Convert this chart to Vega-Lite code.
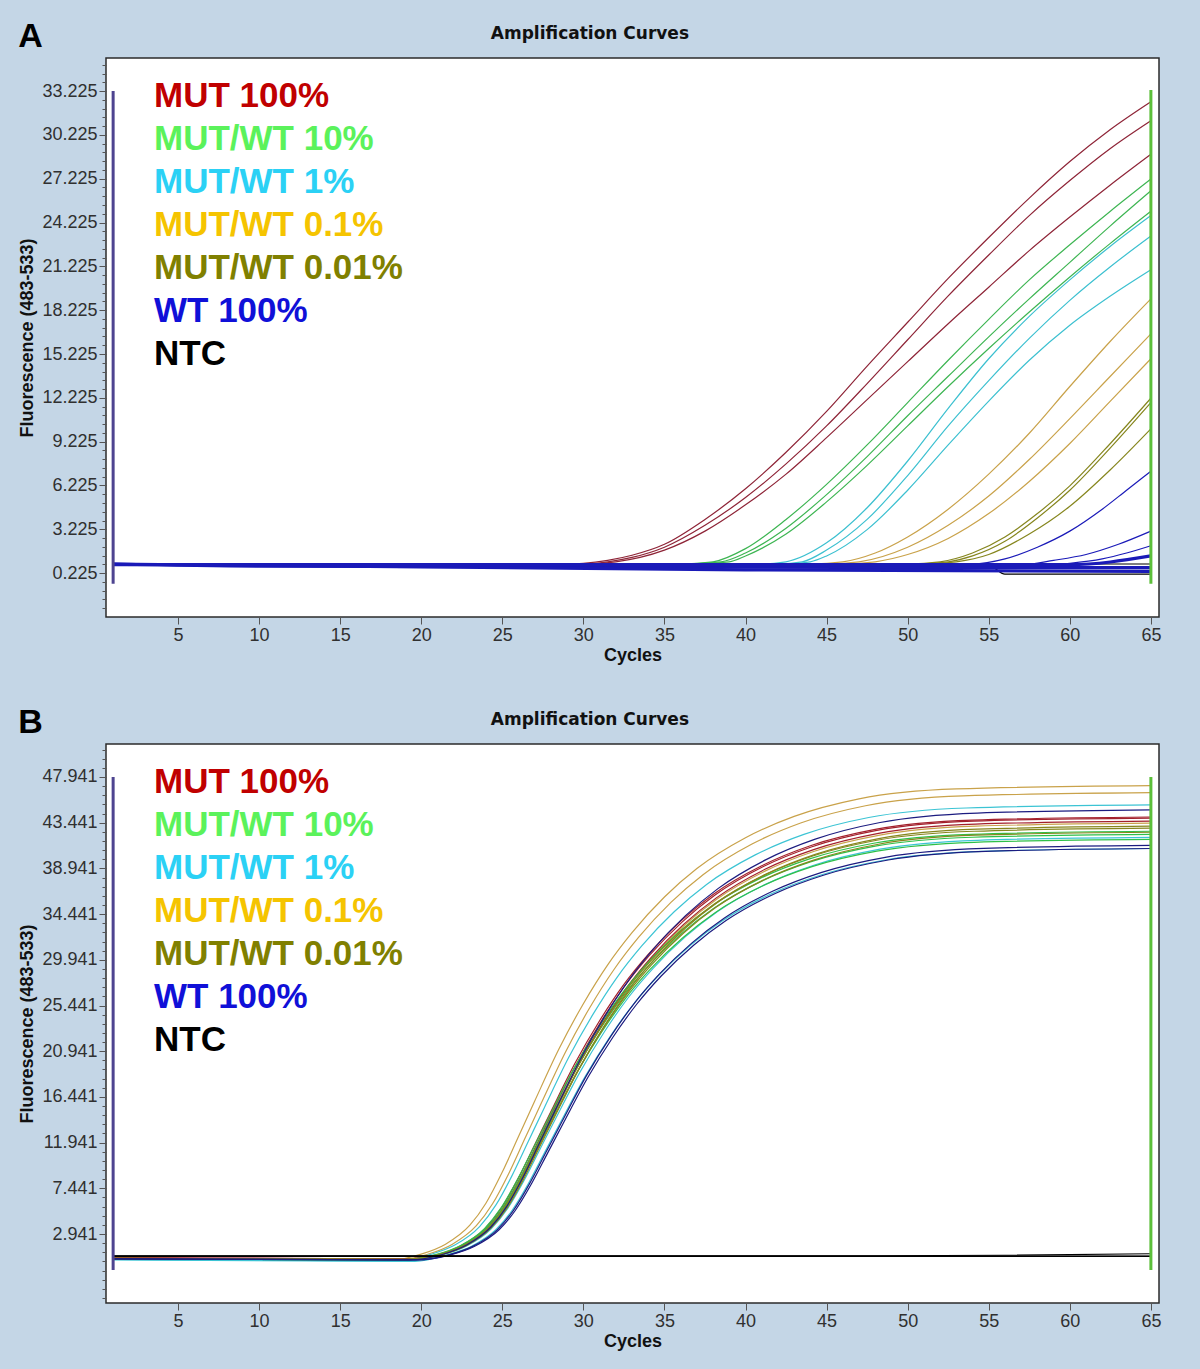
{
  "$schema": "https://vega.github.io/schema/vega-lite/v6.json",
  "background": "#c4d6e6",
  "padding": {"left": 18, "top": 20, "right": 38, "bottom": 18},
  "spacing": 41,
  "resolve": {"scale": {"color": "independent"}},
  "config": {
    "font": "Liberation Sans",
    "view": {"stroke": "#2b2b2b", "strokeWidth": 1.5, "fill": "#ffffff"},
    "axis": {"labelFont": "Liberation Sans", "labelFontSize": 18, "labelColor": "#303030", "tickColor": "#555555", "domain": false, "grid": false, "titleFont": "Liberation Sans", "titleFontWeight": "bold", "titleFontSize": 18, "titleColor": "#111111"},
    "legend": {"labelFont": "Liberation Sans", "labelFontSize": 35, "labelFontWeight": "bold", "labelLimit": 600, "symbolSize": 0, "symbolOpacity": 0, "symbolStrokeWidth": 0, "labelOffset": 0, "rowPadding": 7, "padding": 0}
  },
  "datasets": {
    "markersA": [
      {"cycle": 1, "low": -0.5, "high": 33.225, "marker": "start"},
      {"cycle": 65, "low": -0.5, "high": 33.3, "marker": "end"}
    ],
    "markersB": [
      {"cycle": 1, "low": -0.6, "high": 47.941, "marker": "start"},
      {"cycle": 65, "low": -0.6, "high": 47.941, "marker": "end"}
    ],
    "curvesA": [
      {"sample":"MUT 100%","well":1,"cycle":1,"fluorescence":0.85},
      {"sample":"MUT 100%","well":1,"cycle":15,"fluorescence":0.8},
      {"sample":"MUT 100%","well":1,"cycle":29,"fluorescence":0.85},
      {"sample":"MUT 100%","well":1,"cycle":30,"fluorescence":0.9},
      {"sample":"MUT 100%","well":1,"cycle":31.5,"fluorescence":1.1},
      {"sample":"MUT 100%","well":1,"cycle":33,"fluorescence":1.45},
      {"sample":"MUT 100%","well":1,"cycle":35,"fluorescence":2.2},
      {"sample":"MUT 100%","well":1,"cycle":37.5,"fluorescence":3.9},
      {"sample":"MUT 100%","well":1,"cycle":40,"fluorescence":6.0},
      {"sample":"MUT 100%","well":1,"cycle":42.5,"fluorescence":8.5},
      {"sample":"MUT 100%","well":1,"cycle":45,"fluorescence":11.3},
      {"sample":"MUT 100%","well":1,"cycle":47.5,"fluorescence":14.4},
      {"sample":"MUT 100%","well":1,"cycle":50,"fluorescence":17.4},
      {"sample":"MUT 100%","well":1,"cycle":52.5,"fluorescence":20.4},
      {"sample":"MUT 100%","well":1,"cycle":55,"fluorescence":23.2},
      {"sample":"MUT 100%","well":1,"cycle":57.5,"fluorescence":25.9},
      {"sample":"MUT 100%","well":1,"cycle":60,"fluorescence":28.4},
      {"sample":"MUT 100%","well":1,"cycle":62.5,"fluorescence":30.6},
      {"sample":"MUT 100%","well":1,"cycle":65,"fluorescence":32.5},
      {"sample":"MUT 100%","well":2,"cycle":1,"fluorescence":0.85},
      {"sample":"MUT 100%","well":2,"cycle":15,"fluorescence":0.8},
      {"sample":"MUT 100%","well":2,"cycle":29,"fluorescence":0.85},
      {"sample":"MUT 100%","well":2,"cycle":30,"fluorescence":0.85},
      {"sample":"MUT 100%","well":2,"cycle":31.5,"fluorescence":1.0},
      {"sample":"MUT 100%","well":2,"cycle":33,"fluorescence":1.3},
      {"sample":"MUT 100%","well":2,"cycle":35,"fluorescence":2.0},
      {"sample":"MUT 100%","well":2,"cycle":37.5,"fluorescence":3.5},
      {"sample":"MUT 100%","well":2,"cycle":40,"fluorescence":5.4},
      {"sample":"MUT 100%","well":2,"cycle":42.5,"fluorescence":7.7},
      {"sample":"MUT 100%","well":2,"cycle":45,"fluorescence":10.3},
      {"sample":"MUT 100%","well":2,"cycle":47.5,"fluorescence":13.2},
      {"sample":"MUT 100%","well":2,"cycle":50,"fluorescence":16.2},
      {"sample":"MUT 100%","well":2,"cycle":52.5,"fluorescence":19.2},
      {"sample":"MUT 100%","well":2,"cycle":55,"fluorescence":22.0},
      {"sample":"MUT 100%","well":2,"cycle":57.5,"fluorescence":24.7},
      {"sample":"MUT 100%","well":2,"cycle":60,"fluorescence":27.1},
      {"sample":"MUT 100%","well":2,"cycle":62.5,"fluorescence":29.3},
      {"sample":"MUT 100%","well":2,"cycle":65,"fluorescence":31.2},
      {"sample":"MUT 100%","well":3,"cycle":1,"fluorescence":0.85},
      {"sample":"MUT 100%","well":3,"cycle":15,"fluorescence":0.8},
      {"sample":"MUT 100%","well":3,"cycle":29,"fluorescence":0.85},
      {"sample":"MUT 100%","well":3,"cycle":30,"fluorescence":0.85},
      {"sample":"MUT 100%","well":3,"cycle":32,"fluorescence":1.0},
      {"sample":"MUT 100%","well":3,"cycle":33.5,"fluorescence":1.3},
      {"sample":"MUT 100%","well":3,"cycle":35,"fluorescence":1.8},
      {"sample":"MUT 100%","well":3,"cycle":37.5,"fluorescence":3.1},
      {"sample":"MUT 100%","well":3,"cycle":40,"fluorescence":4.9},
      {"sample":"MUT 100%","well":3,"cycle":42.5,"fluorescence":7.0},
      {"sample":"MUT 100%","well":3,"cycle":45,"fluorescence":9.5},
      {"sample":"MUT 100%","well":3,"cycle":47.5,"fluorescence":12.1},
      {"sample":"MUT 100%","well":3,"cycle":50,"fluorescence":14.7},
      {"sample":"MUT 100%","well":3,"cycle":52.5,"fluorescence":17.3},
      {"sample":"MUT 100%","well":3,"cycle":55,"fluorescence":19.8},
      {"sample":"MUT 100%","well":3,"cycle":57.5,"fluorescence":22.3},
      {"sample":"MUT 100%","well":3,"cycle":60,"fluorescence":24.6},
      {"sample":"MUT 100%","well":3,"cycle":62.5,"fluorescence":26.8},
      {"sample":"MUT 100%","well":3,"cycle":65,"fluorescence":28.9},
      {"sample":"MUT/WT 10%","well":4,"cycle":1,"fluorescence":0.85},
      {"sample":"MUT/WT 10%","well":4,"cycle":20,"fluorescence":0.8},
      {"sample":"MUT/WT 10%","well":4,"cycle":36,"fluorescence":0.85},
      {"sample":"MUT/WT 10%","well":4,"cycle":38,"fluorescence":1.0},
      {"sample":"MUT/WT 10%","well":4,"cycle":40,"fluorescence":1.9},
      {"sample":"MUT/WT 10%","well":4,"cycle":42.5,"fluorescence":3.9},
      {"sample":"MUT/WT 10%","well":4,"cycle":45,"fluorescence":6.3},
      {"sample":"MUT/WT 10%","well":4,"cycle":47.5,"fluorescence":9.0},
      {"sample":"MUT/WT 10%","well":4,"cycle":50,"fluorescence":11.9},
      {"sample":"MUT/WT 10%","well":4,"cycle":52.5,"fluorescence":14.8},
      {"sample":"MUT/WT 10%","well":4,"cycle":55,"fluorescence":17.6},
      {"sample":"MUT/WT 10%","well":4,"cycle":57.5,"fluorescence":20.3},
      {"sample":"MUT/WT 10%","well":4,"cycle":60,"fluorescence":22.7},
      {"sample":"MUT/WT 10%","well":4,"cycle":62.5,"fluorescence":25.0},
      {"sample":"MUT/WT 10%","well":4,"cycle":65,"fluorescence":27.2},
      {"sample":"MUT/WT 10%","well":5,"cycle":1,"fluorescence":0.85},
      {"sample":"MUT/WT 10%","well":5,"cycle":20,"fluorescence":0.8},
      {"sample":"MUT/WT 10%","well":5,"cycle":36,"fluorescence":0.85},
      {"sample":"MUT/WT 10%","well":5,"cycle":38.5,"fluorescence":1.0},
      {"sample":"MUT/WT 10%","well":5,"cycle":40,"fluorescence":1.6},
      {"sample":"MUT/WT 10%","well":5,"cycle":42.5,"fluorescence":3.3},
      {"sample":"MUT/WT 10%","well":5,"cycle":45,"fluorescence":5.6},
      {"sample":"MUT/WT 10%","well":5,"cycle":47.5,"fluorescence":8.2},
      {"sample":"MUT/WT 10%","well":5,"cycle":50,"fluorescence":11.0},
      {"sample":"MUT/WT 10%","well":5,"cycle":52.5,"fluorescence":13.7},
      {"sample":"MUT/WT 10%","well":5,"cycle":55,"fluorescence":16.4},
      {"sample":"MUT/WT 10%","well":5,"cycle":57.5,"fluorescence":19.0},
      {"sample":"MUT/WT 10%","well":5,"cycle":60,"fluorescence":21.5},
      {"sample":"MUT/WT 10%","well":5,"cycle":62.5,"fluorescence":24.0},
      {"sample":"MUT/WT 10%","well":5,"cycle":65,"fluorescence":26.4},
      {"sample":"MUT/WT 10%","well":6,"cycle":1,"fluorescence":0.85},
      {"sample":"MUT/WT 10%","well":6,"cycle":20,"fluorescence":0.8},
      {"sample":"MUT/WT 10%","well":6,"cycle":36,"fluorescence":0.85},
      {"sample":"MUT/WT 10%","well":6,"cycle":39,"fluorescence":1.0},
      {"sample":"MUT/WT 10%","well":6,"cycle":40,"fluorescence":1.4},
      {"sample":"MUT/WT 10%","well":6,"cycle":42.5,"fluorescence":2.9},
      {"sample":"MUT/WT 10%","well":6,"cycle":45,"fluorescence":5.1},
      {"sample":"MUT/WT 10%","well":6,"cycle":47.5,"fluorescence":7.6},
      {"sample":"MUT/WT 10%","well":6,"cycle":50,"fluorescence":10.3},
      {"sample":"MUT/WT 10%","well":6,"cycle":52.5,"fluorescence":13.0},
      {"sample":"MUT/WT 10%","well":6,"cycle":55,"fluorescence":15.6},
      {"sample":"MUT/WT 10%","well":6,"cycle":57.5,"fluorescence":18.1},
      {"sample":"MUT/WT 10%","well":6,"cycle":60,"fluorescence":20.5},
      {"sample":"MUT/WT 10%","well":6,"cycle":62.5,"fluorescence":22.8},
      {"sample":"MUT/WT 10%","well":6,"cycle":65,"fluorescence":25.0},
      {"sample":"MUT/WT 1%","well":7,"cycle":1,"fluorescence":0.85},
      {"sample":"MUT/WT 1%","well":7,"cycle":25,"fluorescence":0.8},
      {"sample":"MUT/WT 1%","well":7,"cycle":41,"fluorescence":0.85},
      {"sample":"MUT/WT 1%","well":7,"cycle":42.5,"fluorescence":1.0},
      {"sample":"MUT/WT 1%","well":7,"cycle":45,"fluorescence":2.3},
      {"sample":"MUT/WT 1%","well":7,"cycle":47.5,"fluorescence":4.7},
      {"sample":"MUT/WT 1%","well":7,"cycle":50,"fluorescence":7.9},
      {"sample":"MUT/WT 1%","well":7,"cycle":52.5,"fluorescence":11.5},
      {"sample":"MUT/WT 1%","well":7,"cycle":55,"fluorescence":14.9},
      {"sample":"MUT/WT 1%","well":7,"cycle":57.5,"fluorescence":17.8},
      {"sample":"MUT/WT 1%","well":7,"cycle":60,"fluorescence":20.3},
      {"sample":"MUT/WT 1%","well":7,"cycle":62.5,"fluorescence":22.6},
      {"sample":"MUT/WT 1%","well":7,"cycle":65,"fluorescence":24.7},
      {"sample":"MUT/WT 1%","well":8,"cycle":1,"fluorescence":0.85},
      {"sample":"MUT/WT 1%","well":8,"cycle":25,"fluorescence":0.8},
      {"sample":"MUT/WT 1%","well":8,"cycle":42,"fluorescence":0.85},
      {"sample":"MUT/WT 1%","well":8,"cycle":43.5,"fluorescence":1.0},
      {"sample":"MUT/WT 1%","well":8,"cycle":45,"fluorescence":1.8},
      {"sample":"MUT/WT 1%","well":8,"cycle":47.5,"fluorescence":3.9},
      {"sample":"MUT/WT 1%","well":8,"cycle":50,"fluorescence":6.9},
      {"sample":"MUT/WT 1%","well":8,"cycle":52.5,"fluorescence":10.3},
      {"sample":"MUT/WT 1%","well":8,"cycle":55,"fluorescence":13.4},
      {"sample":"MUT/WT 1%","well":8,"cycle":57.5,"fluorescence":16.3},
      {"sample":"MUT/WT 1%","well":8,"cycle":60,"fluorescence":18.9},
      {"sample":"MUT/WT 1%","well":8,"cycle":62.5,"fluorescence":21.2},
      {"sample":"MUT/WT 1%","well":8,"cycle":65,"fluorescence":23.3},
      {"sample":"MUT/WT 1%","well":9,"cycle":1,"fluorescence":0.85},
      {"sample":"MUT/WT 1%","well":9,"cycle":25,"fluorescence":0.8},
      {"sample":"MUT/WT 1%","well":9,"cycle":42.5,"fluorescence":0.85},
      {"sample":"MUT/WT 1%","well":9,"cycle":44,"fluorescence":1.0},
      {"sample":"MUT/WT 1%","well":9,"cycle":45,"fluorescence":1.4},
      {"sample":"MUT/WT 1%","well":9,"cycle":47.5,"fluorescence":3.2},
      {"sample":"MUT/WT 1%","well":9,"cycle":50,"fluorescence":5.9},
      {"sample":"MUT/WT 1%","well":9,"cycle":52.5,"fluorescence":9.0},
      {"sample":"MUT/WT 1%","well":9,"cycle":55,"fluorescence":12.0},
      {"sample":"MUT/WT 1%","well":9,"cycle":57.5,"fluorescence":14.8},
      {"sample":"MUT/WT 1%","well":9,"cycle":60,"fluorescence":17.2},
      {"sample":"MUT/WT 1%","well":9,"cycle":62.5,"fluorescence":19.2},
      {"sample":"MUT/WT 1%","well":9,"cycle":65,"fluorescence":21.0},
      {"sample":"MUT/WT 0.1%","well":10,"cycle":1,"fluorescence":0.85},
      {"sample":"MUT/WT 0.1%","well":10,"cycle":30,"fluorescence":0.8},
      {"sample":"MUT/WT 0.1%","well":10,"cycle":44,"fluorescence":0.85},
      {"sample":"MUT/WT 0.1%","well":10,"cycle":46,"fluorescence":1.0},
      {"sample":"MUT/WT 0.1%","well":10,"cycle":48,"fluorescence":1.6},
      {"sample":"MUT/WT 0.1%","well":10,"cycle":50,"fluorescence":2.7},
      {"sample":"MUT/WT 0.1%","well":10,"cycle":52.5,"fluorescence":4.6},
      {"sample":"MUT/WT 0.1%","well":10,"cycle":55,"fluorescence":7.0},
      {"sample":"MUT/WT 0.1%","well":10,"cycle":57.5,"fluorescence":9.8},
      {"sample":"MUT/WT 0.1%","well":10,"cycle":60,"fluorescence":13.0},
      {"sample":"MUT/WT 0.1%","well":10,"cycle":62.5,"fluorescence":16.1},
      {"sample":"MUT/WT 0.1%","well":10,"cycle":65,"fluorescence":19.0},
      {"sample":"MUT/WT 0.1%","well":11,"cycle":1,"fluorescence":0.85},
      {"sample":"MUT/WT 0.1%","well":11,"cycle":30,"fluorescence":0.8},
      {"sample":"MUT/WT 0.1%","well":11,"cycle":45,"fluorescence":0.85},
      {"sample":"MUT/WT 0.1%","well":11,"cycle":47,"fluorescence":1.0},
      {"sample":"MUT/WT 0.1%","well":11,"cycle":50,"fluorescence":2.0},
      {"sample":"MUT/WT 0.1%","well":11,"cycle":52.5,"fluorescence":3.5},
      {"sample":"MUT/WT 0.1%","well":11,"cycle":55,"fluorescence":5.5},
      {"sample":"MUT/WT 0.1%","well":11,"cycle":57.5,"fluorescence":8.0},
      {"sample":"MUT/WT 0.1%","well":11,"cycle":60,"fluorescence":10.8},
      {"sample":"MUT/WT 0.1%","well":11,"cycle":62.5,"fluorescence":13.7},
      {"sample":"MUT/WT 0.1%","well":11,"cycle":65,"fluorescence":16.6},
      {"sample":"MUT/WT 0.1%","well":12,"cycle":1,"fluorescence":0.85},
      {"sample":"MUT/WT 0.1%","well":12,"cycle":30,"fluorescence":0.8},
      {"sample":"MUT/WT 0.1%","well":12,"cycle":46,"fluorescence":0.85},
      {"sample":"MUT/WT 0.1%","well":12,"cycle":48,"fluorescence":1.0},
      {"sample":"MUT/WT 0.1%","well":12,"cycle":50,"fluorescence":1.5},
      {"sample":"MUT/WT 0.1%","well":12,"cycle":52.5,"fluorescence":2.6},
      {"sample":"MUT/WT 0.1%","well":12,"cycle":55,"fluorescence":4.3},
      {"sample":"MUT/WT 0.1%","well":12,"cycle":57.5,"fluorescence":6.5},
      {"sample":"MUT/WT 0.1%","well":12,"cycle":60,"fluorescence":9.1},
      {"sample":"MUT/WT 0.1%","well":12,"cycle":62.5,"fluorescence":12.0},
      {"sample":"MUT/WT 0.1%","well":12,"cycle":65,"fluorescence":14.9},
      {"sample":"MUT/WT 0.01%","well":13,"cycle":1,"fluorescence":0.85},
      {"sample":"MUT/WT 0.01%","well":13,"cycle":30,"fluorescence":0.8},
      {"sample":"MUT/WT 0.01%","well":13,"cycle":50,"fluorescence":0.85},
      {"sample":"MUT/WT 0.01%","well":13,"cycle":52,"fluorescence":1.0},
      {"sample":"MUT/WT 0.01%","well":13,"cycle":54,"fluorescence":1.6},
      {"sample":"MUT/WT 0.01%","well":13,"cycle":56,"fluorescence":2.7},
      {"sample":"MUT/WT 0.01%","well":13,"cycle":58,"fluorescence":4.3},
      {"sample":"MUT/WT 0.01%","well":13,"cycle":60,"fluorescence":6.2},
      {"sample":"MUT/WT 0.01%","well":13,"cycle":62.5,"fluorescence":9.1},
      {"sample":"MUT/WT 0.01%","well":13,"cycle":65,"fluorescence":12.2},
      {"sample":"MUT/WT 0.01%","well":14,"cycle":1,"fluorescence":0.85},
      {"sample":"MUT/WT 0.01%","well":14,"cycle":30,"fluorescence":0.8},
      {"sample":"MUT/WT 0.01%","well":14,"cycle":50.5,"fluorescence":0.85},
      {"sample":"MUT/WT 0.01%","well":14,"cycle":52.5,"fluorescence":1.0},
      {"sample":"MUT/WT 0.01%","well":14,"cycle":54,"fluorescence":1.4},
      {"sample":"MUT/WT 0.01%","well":14,"cycle":56,"fluorescence":2.4},
      {"sample":"MUT/WT 0.01%","well":14,"cycle":58,"fluorescence":4.0},
      {"sample":"MUT/WT 0.01%","well":14,"cycle":60,"fluorescence":5.9},
      {"sample":"MUT/WT 0.01%","well":14,"cycle":62.5,"fluorescence":8.8},
      {"sample":"MUT/WT 0.01%","well":14,"cycle":65,"fluorescence":11.9},
      {"sample":"MUT/WT 0.01%","well":15,"cycle":1,"fluorescence":0.85},
      {"sample":"MUT/WT 0.01%","well":15,"cycle":30,"fluorescence":0.8},
      {"sample":"MUT/WT 0.01%","well":15,"cycle":51,"fluorescence":0.85},
      {"sample":"MUT/WT 0.01%","well":15,"cycle":53,"fluorescence":1.0},
      {"sample":"MUT/WT 0.01%","well":15,"cycle":55,"fluorescence":1.5},
      {"sample":"MUT/WT 0.01%","well":15,"cycle":57.5,"fluorescence":2.9},
      {"sample":"MUT/WT 0.01%","well":15,"cycle":60,"fluorescence":4.8},
      {"sample":"MUT/WT 0.01%","well":15,"cycle":62.5,"fluorescence":7.3},
      {"sample":"MUT/WT 0.01%","well":15,"cycle":65,"fluorescence":10.1},
      {"sample":"WT 100%","well":16,"cycle":1,"fluorescence":0.85},
      {"sample":"WT 100%","well":16,"cycle":30,"fluorescence":0.8},
      {"sample":"WT 100%","well":16,"cycle":54,"fluorescence":0.85},
      {"sample":"WT 100%","well":16,"cycle":56,"fluorescence":1.2},
      {"sample":"WT 100%","well":16,"cycle":58,"fluorescence":2.0},
      {"sample":"WT 100%","well":16,"cycle":60,"fluorescence":3.1},
      {"sample":"WT 100%","well":16,"cycle":62,"fluorescence":4.6},
      {"sample":"WT 100%","well":16,"cycle":63.5,"fluorescence":5.9},
      {"sample":"WT 100%","well":16,"cycle":65,"fluorescence":7.2},
      {"sample":"WT 100%","well":17,"cycle":1,"fluorescence":0.8},
      {"sample":"WT 100%","well":17,"cycle":40,"fluorescence":0.75},
      {"sample":"WT 100%","well":17,"cycle":57,"fluorescence":0.8},
      {"sample":"WT 100%","well":17,"cycle":59,"fluorescence":1.1},
      {"sample":"WT 100%","well":17,"cycle":61,"fluorescence":1.5},
      {"sample":"WT 100%","well":17,"cycle":63,"fluorescence":2.2},
      {"sample":"WT 100%","well":17,"cycle":65,"fluorescence":3.1},
      {"sample":"WT 100%","well":18,"cycle":1,"fluorescence":0.75},
      {"sample":"WT 100%","well":18,"cycle":45,"fluorescence":0.7},
      {"sample":"WT 100%","well":18,"cycle":58,"fluorescence":0.75},
      {"sample":"WT 100%","well":18,"cycle":60,"fluorescence":0.9},
      {"sample":"WT 100%","well":18,"cycle":62,"fluorescence":1.2},
      {"sample":"WT 100%","well":18,"cycle":63.5,"fluorescence":1.6},
      {"sample":"WT 100%","well":18,"cycle":65,"fluorescence":2.1},
      {"sample":"NTC","well":22,"cycle":1,"fluorescence":0.85},
      {"sample":"NTC","well":22,"cycle":65,"fluorescence":0.85},
      {"sample":"NTC","well":23,"cycle":1,"fluorescence":0.8},
      {"sample":"NTC","well":23,"cycle":55,"fluorescence":0.75},
      {"sample":"NTC","well":23,"cycle":56,"fluorescence":0.15},
      {"sample":"NTC","well":23,"cycle":65,"fluorescence":0.15},
      {"sample":"WT 100%","well":19,"cycle":1,"fluorescence":0.85},
      {"sample":"WT 100%","well":19,"cycle":10,"fluorescence":0.7},
      {"sample":"WT 100%","well":19,"cycle":65,"fluorescence":0.6},
      {"sample":"WT 100%","well":20,"cycle":1,"fluorescence":0.85},
      {"sample":"WT 100%","well":20,"cycle":40,"fluorescence":0.45},
      {"sample":"WT 100%","well":20,"cycle":65,"fluorescence":0.35},
      {"sample":"WT 100%","well":21,"cycle":1,"fluorescence":0.8},
      {"sample":"WT 100%","well":21,"cycle":60,"fluorescence":0.8},
      {"sample":"WT 100%","well":21,"cycle":65,"fluorescence":1.4}
    ],
    "curvesB": [
      {"sample":"MUT/WT 0.1%","well":1,"cycle":1,"fluorescence":0.5},
      {"sample":"MUT/WT 0.1%","well":1,"cycle":18,"fluorescence":0.35},
      {"sample":"MUT/WT 0.1%","well":1,"cycle":20,"fluorescence":0.96},
      {"sample":"MUT/WT 0.1%","well":1,"cycle":21.5,"fluorescence":1.94},
      {"sample":"MUT/WT 0.1%","well":1,"cycle":23,"fluorescence":3.81},
      {"sample":"MUT/WT 0.1%","well":1,"cycle":24,"fluorescence":6.0},
      {"sample":"MUT/WT 0.1%","well":1,"cycle":25,"fluorescence":9.04},
      {"sample":"MUT/WT 0.1%","well":1,"cycle":26,"fluorescence":12.54},
      {"sample":"MUT/WT 0.1%","well":1,"cycle":27,"fluorescence":16.04},
      {"sample":"MUT/WT 0.1%","well":1,"cycle":28.5,"fluorescence":21.18},
      {"sample":"MUT/WT 0.1%","well":1,"cycle":30,"fluorescence":25.62},
      {"sample":"MUT/WT 0.1%","well":1,"cycle":31.5,"fluorescence":29.45},
      {"sample":"MUT/WT 0.1%","well":1,"cycle":33,"fluorescence":32.62},
      {"sample":"MUT/WT 0.1%","well":1,"cycle":35,"fluorescence":36.13},
      {"sample":"MUT/WT 0.1%","well":1,"cycle":37,"fluorescence":38.93},
      {"sample":"MUT/WT 0.1%","well":1,"cycle":40,"fluorescence":41.96},
      {"sample":"MUT/WT 0.1%","well":1,"cycle":43,"fluorescence":44.06},
      {"sample":"MUT/WT 0.1%","well":1,"cycle":47,"fluorescence":45.79},
      {"sample":"MUT/WT 0.1%","well":1,"cycle":53,"fluorescence":46.77},
      {"sample":"MUT/WT 0.1%","well":1,"cycle":65,"fluorescence":47.1},
      {"sample":"MUT/WT 0.1%","well":2,"cycle":1,"fluorescence":0.5},
      {"sample":"MUT/WT 0.1%","well":2,"cycle":18.4,"fluorescence":0.35},
      {"sample":"MUT/WT 0.1%","well":2,"cycle":20.4,"fluorescence":0.95},
      {"sample":"MUT/WT 0.1%","well":2,"cycle":21.9,"fluorescence":1.92},
      {"sample":"MUT/WT 0.1%","well":2,"cycle":23.4,"fluorescence":3.76},
      {"sample":"MUT/WT 0.1%","well":2,"cycle":24.4,"fluorescence":5.92},
      {"sample":"MUT/WT 0.1%","well":2,"cycle":25.4,"fluorescence":8.91},
      {"sample":"MUT/WT 0.1%","well":2,"cycle":26.4,"fluorescence":12.36},
      {"sample":"MUT/WT 0.1%","well":2,"cycle":27.4,"fluorescence":15.81},
      {"sample":"MUT/WT 0.1%","well":2,"cycle":28.9,"fluorescence":20.87},
      {"sample":"MUT/WT 0.1%","well":2,"cycle":30.4,"fluorescence":25.24},
      {"sample":"MUT/WT 0.1%","well":2,"cycle":31.9,"fluorescence":29.01},
      {"sample":"MUT/WT 0.1%","well":2,"cycle":33.4,"fluorescence":32.14},
      {"sample":"MUT/WT 0.1%","well":2,"cycle":35.4,"fluorescence":35.59},
      {"sample":"MUT/WT 0.1%","well":2,"cycle":37.4,"fluorescence":38.35},
      {"sample":"MUT/WT 0.1%","well":2,"cycle":40.4,"fluorescence":41.34},
      {"sample":"MUT/WT 0.1%","well":2,"cycle":43.4,"fluorescence":43.41},
      {"sample":"MUT/WT 0.1%","well":2,"cycle":47.4,"fluorescence":45.11},
      {"sample":"MUT/WT 0.1%","well":2,"cycle":53.4,"fluorescence":46.08},
      {"sample":"MUT/WT 0.1%","well":2,"cycle":65,"fluorescence":46.4},
      {"sample":"MUT/WT 0.1%","well":3,"cycle":1,"fluorescence":0.55},
      {"sample":"MUT/WT 0.1%","well":3,"cycle":19.2,"fluorescence":0.4},
      {"sample":"MUT/WT 0.1%","well":3,"cycle":21.2,"fluorescence":0.92},
      {"sample":"MUT/WT 0.1%","well":3,"cycle":22.7,"fluorescence":1.82},
      {"sample":"MUT/WT 0.1%","well":3,"cycle":24.2,"fluorescence":3.54},
      {"sample":"MUT/WT 0.1%","well":3,"cycle":25.2,"fluorescence":5.56},
      {"sample":"MUT/WT 0.1%","well":3,"cycle":26.2,"fluorescence":8.36},
      {"sample":"MUT/WT 0.1%","well":3,"cycle":27.2,"fluorescence":11.58},
      {"sample":"MUT/WT 0.1%","well":3,"cycle":28.2,"fluorescence":14.81},
      {"sample":"MUT/WT 0.1%","well":3,"cycle":29.7,"fluorescence":19.54},
      {"sample":"MUT/WT 0.1%","well":3,"cycle":31.2,"fluorescence":23.62},
      {"sample":"MUT/WT 0.1%","well":3,"cycle":32.7,"fluorescence":27.15},
      {"sample":"MUT/WT 0.1%","well":3,"cycle":34.2,"fluorescence":30.07},
      {"sample":"MUT/WT 0.1%","well":3,"cycle":36.2,"fluorescence":33.3},
      {"sample":"MUT/WT 0.1%","well":3,"cycle":38.2,"fluorescence":35.88},
      {"sample":"MUT/WT 0.1%","well":3,"cycle":41.2,"fluorescence":38.67},
      {"sample":"MUT/WT 0.1%","well":3,"cycle":44.2,"fluorescence":40.61},
      {"sample":"MUT/WT 0.1%","well":3,"cycle":48.2,"fluorescence":42.2},
      {"sample":"MUT/WT 0.1%","well":3,"cycle":54.2,"fluorescence":43.1},
      {"sample":"MUT/WT 0.1%","well":3,"cycle":65,"fluorescence":43.4},
      {"sample":"MUT/WT 1%","well":4,"cycle":1,"fluorescence":0.45},
      {"sample":"MUT/WT 1%","well":4,"cycle":18.6,"fluorescence":0.3},
      {"sample":"MUT/WT 1%","well":4,"cycle":20.6,"fluorescence":0.94},
      {"sample":"MUT/WT 1%","well":4,"cycle":22.1,"fluorescence":1.88},
      {"sample":"MUT/WT 1%","well":4,"cycle":23.6,"fluorescence":3.67},
      {"sample":"MUT/WT 1%","well":4,"cycle":24.6,"fluorescence":5.78},
      {"sample":"MUT/WT 1%","well":4,"cycle":25.6,"fluorescence":8.69},
      {"sample":"MUT/WT 1%","well":4,"cycle":26.6,"fluorescence":12.05},
      {"sample":"MUT/WT 1%","well":4,"cycle":27.6,"fluorescence":15.41},
      {"sample":"MUT/WT 1%","well":4,"cycle":29.1,"fluorescence":20.34},
      {"sample":"MUT/WT 1%","well":4,"cycle":30.6,"fluorescence":24.59},
      {"sample":"MUT/WT 1%","well":4,"cycle":32.1,"fluorescence":28.27},
      {"sample":"MUT/WT 1%","well":4,"cycle":33.6,"fluorescence":31.31},
      {"sample":"MUT/WT 1%","well":4,"cycle":35.6,"fluorescence":34.67},
      {"sample":"MUT/WT 1%","well":4,"cycle":37.6,"fluorescence":37.36},
      {"sample":"MUT/WT 1%","well":4,"cycle":40.6,"fluorescence":40.27},
      {"sample":"MUT/WT 1%","well":4,"cycle":43.6,"fluorescence":42.29},
      {"sample":"MUT/WT 1%","well":4,"cycle":47.6,"fluorescence":43.95},
      {"sample":"MUT/WT 1%","well":4,"cycle":53.6,"fluorescence":44.89},
      {"sample":"MUT/WT 1%","well":4,"cycle":65,"fluorescence":45.2},
      {"sample":"MUT/WT 1%","well":5,"cycle":1,"fluorescence":0.45},
      {"sample":"MUT/WT 1%","well":5,"cycle":19.3,"fluorescence":0.3},
      {"sample":"MUT/WT 1%","well":5,"cycle":21.3,"fluorescence":0.9},
      {"sample":"MUT/WT 1%","well":5,"cycle":22.8,"fluorescence":1.77},
      {"sample":"MUT/WT 1%","well":5,"cycle":24.3,"fluorescence":3.44},
      {"sample":"MUT/WT 1%","well":5,"cycle":25.3,"fluorescence":5.39},
      {"sample":"MUT/WT 1%","well":5,"cycle":26.3,"fluorescence":8.1},
      {"sample":"MUT/WT 1%","well":5,"cycle":27.3,"fluorescence":11.22},
      {"sample":"MUT/WT 1%","well":5,"cycle":28.3,"fluorescence":14.34},
      {"sample":"MUT/WT 1%","well":5,"cycle":29.8,"fluorescence":18.91},
      {"sample":"MUT/WT 1%","well":5,"cycle":31.3,"fluorescence":22.86},
      {"sample":"MUT/WT 1%","well":5,"cycle":32.8,"fluorescence":26.28},
      {"sample":"MUT/WT 1%","well":5,"cycle":34.3,"fluorescence":29.1},
      {"sample":"MUT/WT 1%","well":5,"cycle":36.3,"fluorescence":32.22},
      {"sample":"MUT/WT 1%","well":5,"cycle":38.3,"fluorescence":34.72},
      {"sample":"MUT/WT 1%","well":5,"cycle":41.3,"fluorescence":37.42},
      {"sample":"MUT/WT 1%","well":5,"cycle":44.3,"fluorescence":39.3},
      {"sample":"MUT/WT 1%","well":5,"cycle":48.3,"fluorescence":40.84},
      {"sample":"MUT/WT 1%","well":5,"cycle":54.3,"fluorescence":41.71},
      {"sample":"MUT/WT 1%","well":5,"cycle":65,"fluorescence":42.0},
      {"sample":"MUT/WT 1%","well":6,"cycle":1,"fluorescence":0.4},
      {"sample":"MUT/WT 1%","well":6,"cycle":19.6,"fluorescence":0.25},
      {"sample":"MUT/WT 1%","well":6,"cycle":21.6,"fluorescence":0.89},
      {"sample":"MUT/WT 1%","well":6,"cycle":23.1,"fluorescence":1.74},
      {"sample":"MUT/WT 1%","well":6,"cycle":24.6,"fluorescence":3.36},
      {"sample":"MUT/WT 1%","well":6,"cycle":25.6,"fluorescence":5.26},
      {"sample":"MUT/WT 1%","well":6,"cycle":26.6,"fluorescence":7.89},
      {"sample":"MUT/WT 1%","well":6,"cycle":27.6,"fluorescence":10.93},
      {"sample":"MUT/WT 1%","well":6,"cycle":28.6,"fluorescence":13.97},
      {"sample":"MUT/WT 1%","well":6,"cycle":30.1,"fluorescence":18.42},
      {"sample":"MUT/WT 1%","well":6,"cycle":31.6,"fluorescence":22.27},
      {"sample":"MUT/WT 1%","well":6,"cycle":33.1,"fluorescence":25.59},
      {"sample":"MUT/WT 1%","well":6,"cycle":34.6,"fluorescence":28.35},
      {"sample":"MUT/WT 1%","well":6,"cycle":36.6,"fluorescence":31.38},
      {"sample":"MUT/WT 1%","well":6,"cycle":38.6,"fluorescence":33.81},
      {"sample":"MUT/WT 1%","well":6,"cycle":41.6,"fluorescence":36.45},
      {"sample":"MUT/WT 1%","well":6,"cycle":44.6,"fluorescence":38.27},
      {"sample":"MUT/WT 1%","well":6,"cycle":48.6,"fluorescence":39.77},
      {"sample":"MUT/WT 1%","well":6,"cycle":54.6,"fluorescence":40.62},
      {"sample":"MUT/WT 1%","well":6,"cycle":65,"fluorescence":40.9},
      {"sample":"MUT 100%","well":7,"cycle":1,"fluorescence":0.6},
      {"sample":"MUT 100%","well":7,"cycle":19,"fluorescence":0.5},
      {"sample":"MUT 100%","well":7,"cycle":21,"fluorescence":0.92},
      {"sample":"MUT 100%","well":7,"cycle":22.5,"fluorescence":1.84},
      {"sample":"MUT 100%","well":7,"cycle":24,"fluorescence":3.58},
      {"sample":"MUT 100%","well":7,"cycle":25,"fluorescence":5.63},
      {"sample":"MUT 100%","well":7,"cycle":26,"fluorescence":8.47},
      {"sample":"MUT 100%","well":7,"cycle":27,"fluorescence":11.74},
      {"sample":"MUT 100%","well":7,"cycle":28,"fluorescence":15.01},
      {"sample":"MUT 100%","well":7,"cycle":29.5,"fluorescence":19.8},
      {"sample":"MUT 100%","well":7,"cycle":31,"fluorescence":23.94},
      {"sample":"MUT 100%","well":7,"cycle":32.5,"fluorescence":27.52},
      {"sample":"MUT 100%","well":7,"cycle":34,"fluorescence":30.48},
      {"sample":"MUT 100%","well":7,"cycle":36,"fluorescence":33.75},
      {"sample":"MUT 100%","well":7,"cycle":38,"fluorescence":36.37},
      {"sample":"MUT 100%","well":7,"cycle":41,"fluorescence":39.2},
      {"sample":"MUT 100%","well":7,"cycle":44,"fluorescence":41.17},
      {"sample":"MUT 100%","well":7,"cycle":48,"fluorescence":42.78},
      {"sample":"MUT 100%","well":7,"cycle":54,"fluorescence":43.69},
      {"sample":"MUT 100%","well":7,"cycle":65,"fluorescence":44.0},
      {"sample":"MUT 100%","well":8,"cycle":1,"fluorescence":0.6},
      {"sample":"MUT 100%","well":8,"cycle":19.2,"fluorescence":0.5},
      {"sample":"MUT 100%","well":8,"cycle":21.2,"fluorescence":0.92},
      {"sample":"MUT 100%","well":8,"cycle":22.7,"fluorescence":1.83},
      {"sample":"MUT 100%","well":8,"cycle":24.2,"fluorescence":3.55},
      {"sample":"MUT 100%","well":8,"cycle":25.2,"fluorescence":5.58},
      {"sample":"MUT 100%","well":8,"cycle":26.2,"fluorescence":8.39},
      {"sample":"MUT 100%","well":8,"cycle":27.2,"fluorescence":11.63},
      {"sample":"MUT 100%","well":8,"cycle":28.2,"fluorescence":14.87},
      {"sample":"MUT 100%","well":8,"cycle":29.7,"fluorescence":19.62},
      {"sample":"MUT 100%","well":8,"cycle":31.2,"fluorescence":23.73},
      {"sample":"MUT 100%","well":8,"cycle":32.7,"fluorescence":27.27},
      {"sample":"MUT 100%","well":8,"cycle":34.2,"fluorescence":30.21},
      {"sample":"MUT 100%","well":8,"cycle":36.2,"fluorescence":33.45},
      {"sample":"MUT 100%","well":8,"cycle":38.2,"fluorescence":36.04},
      {"sample":"MUT 100%","well":8,"cycle":41.2,"fluorescence":38.85},
      {"sample":"MUT 100%","well":8,"cycle":44.2,"fluorescence":40.79},
      {"sample":"MUT 100%","well":8,"cycle":48.2,"fluorescence":42.39},
      {"sample":"MUT 100%","well":8,"cycle":54.2,"fluorescence":43.3},
      {"sample":"MUT 100%","well":8,"cycle":65,"fluorescence":43.6},
      {"sample":"MUT 100%","well":9,"cycle":1,"fluorescence":0.6},
      {"sample":"MUT 100%","well":9,"cycle":19.1,"fluorescence":0.5},
      {"sample":"MUT 100%","well":9,"cycle":21.1,"fluorescence":0.92},
      {"sample":"MUT 100%","well":9,"cycle":22.6,"fluorescence":1.84},
      {"sample":"MUT 100%","well":9,"cycle":24.1,"fluorescence":3.58},
      {"sample":"MUT 100%","well":9,"cycle":25.1,"fluorescence":5.62},
      {"sample":"MUT 100%","well":9,"cycle":26.1,"fluorescence":8.45},
      {"sample":"MUT 100%","well":9,"cycle":27.1,"fluorescence":11.71},
      {"sample":"MUT 100%","well":9,"cycle":28.1,"fluorescence":14.97},
      {"sample":"MUT 100%","well":9,"cycle":29.6,"fluorescence":19.76},
      {"sample":"MUT 100%","well":9,"cycle":31.1,"fluorescence":23.89},
      {"sample":"MUT 100%","well":9,"cycle":32.6,"fluorescence":27.46},
      {"sample":"MUT 100%","well":9,"cycle":34.1,"fluorescence":30.42},
      {"sample":"MUT 100%","well":9,"cycle":36.1,"fluorescence":33.68},
      {"sample":"MUT 100%","well":9,"cycle":38.1,"fluorescence":36.29},
      {"sample":"MUT 100%","well":9,"cycle":41.1,"fluorescence":39.12},
      {"sample":"MUT 100%","well":9,"cycle":44.1,"fluorescence":41.07},
      {"sample":"MUT 100%","well":9,"cycle":48.1,"fluorescence":42.68},
      {"sample":"MUT 100%","well":9,"cycle":54.1,"fluorescence":43.6},
      {"sample":"MUT 100%","well":9,"cycle":65,"fluorescence":43.9},
      {"sample":"MUT/WT 10%","well":10,"cycle":1,"fluorescence":0.5},
      {"sample":"MUT/WT 10%","well":10,"cycle":19,"fluorescence":0.4},
      {"sample":"MUT/WT 10%","well":10,"cycle":21,"fluorescence":0.9},
      {"sample":"MUT/WT 10%","well":10,"cycle":22.5,"fluorescence":1.78},
      {"sample":"MUT/WT 10%","well":10,"cycle":24,"fluorescence":3.46},
      {"sample":"MUT/WT 10%","well":10,"cycle":25,"fluorescence":5.43},
      {"sample":"MUT/WT 10%","well":10,"cycle":26,"fluorescence":8.15},
      {"sample":"MUT/WT 10%","well":10,"cycle":27,"fluorescence":11.29},
      {"sample":"MUT/WT 10%","well":10,"cycle":28,"fluorescence":14.44},
      {"sample":"MUT/WT 10%","well":10,"cycle":29.5,"fluorescence":19.05},
      {"sample":"MUT/WT 10%","well":10,"cycle":31,"fluorescence":23.03},
      {"sample":"MUT/WT 10%","well":10,"cycle":32.5,"fluorescence":26.46},
      {"sample":"MUT/WT 10%","well":10,"cycle":34,"fluorescence":29.31},
      {"sample":"MUT/WT 10%","well":10,"cycle":36,"fluorescence":32.45},
      {"sample":"MUT/WT 10%","well":10,"cycle":38,"fluorescence":34.97},
      {"sample":"MUT/WT 10%","well":10,"cycle":41,"fluorescence":37.69},
      {"sample":"MUT/WT 10%","well":10,"cycle":44,"fluorescence":39.58},
      {"sample":"MUT/WT 10%","well":10,"cycle":48,"fluorescence":41.13},
      {"sample":"MUT/WT 10%","well":10,"cycle":54,"fluorescence":42.01},
      {"sample":"MUT/WT 10%","well":10,"cycle":65,"fluorescence":42.3},
      {"sample":"MUT/WT 10%","well":11,"cycle":1,"fluorescence":0.5},
      {"sample":"MUT/WT 10%","well":11,"cycle":19.1,"fluorescence":0.4},
      {"sample":"MUT/WT 10%","well":11,"cycle":21.1,"fluorescence":0.9},
      {"sample":"MUT/WT 10%","well":11,"cycle":22.6,"fluorescence":1.77},
      {"sample":"MUT/WT 10%","well":11,"cycle":24.1,"fluorescence":3.42},
      {"sample":"MUT/WT 10%","well":11,"cycle":25.1,"fluorescence":5.37},
      {"sample":"MUT/WT 10%","well":11,"cycle":26.1,"fluorescence":8.06},
      {"sample":"MUT/WT 10%","well":11,"cycle":27.1,"fluorescence":11.16},
      {"sample":"MUT/WT 10%","well":11,"cycle":28.1,"fluorescence":14.27},
      {"sample":"MUT/WT 10%","well":11,"cycle":29.6,"fluorescence":18.82},
      {"sample":"MUT/WT 10%","well":11,"cycle":31.1,"fluorescence":22.76},
      {"sample":"MUT/WT 10%","well":11,"cycle":32.6,"fluorescence":26.15},
      {"sample":"MUT/WT 10%","well":11,"cycle":34.1,"fluorescence":28.97},
      {"sample":"MUT/WT 10%","well":11,"cycle":36.1,"fluorescence":32.07},
      {"sample":"MUT/WT 10%","well":11,"cycle":38.1,"fluorescence":34.56},
      {"sample":"MUT/WT 10%","well":11,"cycle":41.1,"fluorescence":37.25},
      {"sample":"MUT/WT 10%","well":11,"cycle":44.1,"fluorescence":39.11},
      {"sample":"MUT/WT 10%","well":11,"cycle":48.1,"fluorescence":40.64},
      {"sample":"MUT/WT 10%","well":11,"cycle":54.1,"fluorescence":41.51},
      {"sample":"MUT/WT 10%","well":11,"cycle":65,"fluorescence":41.8},
      {"sample":"MUT/WT 10%","well":12,"cycle":1,"fluorescence":0.5},
      {"sample":"MUT/WT 10%","well":12,"cycle":18.9,"fluorescence":0.4},
      {"sample":"MUT/WT 10%","well":12,"cycle":20.9,"fluorescence":0.91},
      {"sample":"MUT/WT 10%","well":12,"cycle":22.4,"fluorescence":1.79},
      {"sample":"MUT/WT 10%","well":12,"cycle":23.9,"fluorescence":3.48},
      {"sample":"MUT/WT 10%","well":12,"cycle":24.9,"fluorescence":5.46},
      {"sample":"MUT/WT 10%","well":12,"cycle":25.9,"fluorescence":8.21},
      {"sample":"MUT/WT 10%","well":12,"cycle":26.9,"fluorescence":11.37},
      {"sample":"MUT/WT 10%","well":12,"cycle":27.9,"fluorescence":14.54},
      {"sample":"MUT/WT 10%","well":12,"cycle":29.4,"fluorescence":19.18},
      {"sample":"MUT/WT 10%","well":12,"cycle":30.9,"fluorescence":23.19},
      {"sample":"MUT/WT 10%","well":12,"cycle":32.4,"fluorescence":26.65},
      {"sample":"MUT/WT 10%","well":12,"cycle":33.9,"fluorescence":29.52},
      {"sample":"MUT/WT 10%","well":12,"cycle":35.9,"fluorescence":32.68},
      {"sample":"MUT/WT 10%","well":12,"cycle":37.9,"fluorescence":35.22},
      {"sample":"MUT/WT 10%","well":12,"cycle":40.9,"fluorescence":37.96},
      {"sample":"MUT/WT 10%","well":12,"cycle":43.9,"fluorescence":39.86},
      {"sample":"MUT/WT 10%","well":12,"cycle":47.9,"fluorescence":41.42},
      {"sample":"MUT/WT 10%","well":12,"cycle":53.9,"fluorescence":42.3},
      {"sample":"MUT/WT 10%","well":12,"cycle":65,"fluorescence":42.6},
      {"sample":"MUT/WT 0.01%","well":13,"cycle":1,"fluorescence":0.55},
      {"sample":"MUT/WT 0.01%","well":13,"cycle":19.1,"fluorescence":0.45},
      {"sample":"MUT/WT 0.01%","well":13,"cycle":21.1,"fluorescence":0.91},
      {"sample":"MUT/WT 0.01%","well":13,"cycle":22.6,"fluorescence":1.8},
      {"sample":"MUT/WT 0.01%","well":13,"cycle":24.1,"fluorescence":3.5},
      {"sample":"MUT/WT 0.01%","well":13,"cycle":25.1,"fluorescence":5.5},
      {"sample":"MUT/WT 0.01%","well":13,"cycle":26.1,"fluorescence":8.26},
      {"sample":"MUT/WT 0.01%","well":13,"cycle":27.1,"fluorescence":11.45},
      {"sample":"MUT/WT 0.01%","well":13,"cycle":28.1,"fluorescence":14.64},
      {"sample":"MUT/WT 0.01%","well":13,"cycle":29.6,"fluorescence":19.31},
      {"sample":"MUT/WT 0.01%","well":13,"cycle":31.1,"fluorescence":23.35},
      {"sample":"MUT/WT 0.01%","well":13,"cycle":32.6,"fluorescence":26.84},
      {"sample":"MUT/WT 0.01%","well":13,"cycle":34.1,"fluorescence":29.73},
      {"sample":"MUT/WT 0.01%","well":13,"cycle":36.1,"fluorescence":32.91},
      {"sample":"MUT/WT 0.01%","well":13,"cycle":38.1,"fluorescence":35.46},
      {"sample":"MUT/WT 0.01%","well":13,"cycle":41.1,"fluorescence":38.23},
      {"sample":"MUT/WT 0.01%","well":13,"cycle":44.1,"fluorescence":40.14},
      {"sample":"MUT/WT 0.01%","well":13,"cycle":48.1,"fluorescence":41.71},
      {"sample":"MUT/WT 0.01%","well":13,"cycle":54.1,"fluorescence":42.6},
      {"sample":"MUT/WT 0.01%","well":13,"cycle":65,"fluorescence":42.9},
      {"sample":"MUT/WT 0.01%","well":14,"cycle":1,"fluorescence":0.55},
      {"sample":"MUT/WT 0.01%","well":14,"cycle":19.3,"fluorescence":0.45},
      {"sample":"MUT/WT 0.01%","well":14,"cycle":21.3,"fluorescence":0.91},
      {"sample":"MUT/WT 0.01%","well":14,"cycle":22.8,"fluorescence":1.81},
      {"sample":"MUT/WT 0.01%","well":14,"cycle":24.3,"fluorescence":3.52},
      {"sample":"MUT/WT 0.01%","well":14,"cycle":25.3,"fluorescence":5.52},
      {"sample":"MUT/WT 0.01%","well":14,"cycle":26.3,"fluorescence":8.3},
      {"sample":"MUT/WT 0.01%","well":14,"cycle":27.3,"fluorescence":11.5},
      {"sample":"MUT/WT 0.01%","well":14,"cycle":28.3,"fluorescence":14.7},
      {"sample":"MUT/WT 0.01%","well":14,"cycle":29.8,"fluorescence":19.4},
      {"sample":"MUT/WT 0.01%","well":14,"cycle":31.3,"fluorescence":23.46},
      {"sample":"MUT/WT 0.01%","well":14,"cycle":32.8,"fluorescence":26.96},
      {"sample":"MUT/WT 0.01%","well":14,"cycle":34.3,"fluorescence":29.86},
      {"sample":"MUT/WT 0.01%","well":14,"cycle":36.3,"fluorescence":33.07},
      {"sample":"MUT/WT 0.01%","well":14,"cycle":38.3,"fluorescence":35.63},
      {"sample":"MUT/WT 0.01%","well":14,"cycle":41.3,"fluorescence":38.4},
      {"sample":"MUT/WT 0.01%","well":14,"cycle":44.3,"fluorescence":40.32},
      {"sample":"MUT/WT 0.01%","well":14,"cycle":48.3,"fluorescence":41.9},
      {"sample":"MUT/WT 0.01%","well":14,"cycle":54.3,"fluorescence":42.8},
      {"sample":"MUT/WT 0.01%","well":14,"cycle":65,"fluorescence":43.1},
      {"sample":"MUT/WT 0.01%","well":15,"cycle":1,"fluorescence":0.55},
      {"sample":"MUT/WT 0.01%","well":15,"cycle":19.2,"fluorescence":0.45},
      {"sample":"MUT/WT 0.01%","well":15,"cycle":21.2,"fluorescence":0.91},
      {"sample":"MUT/WT 0.01%","well":15,"cycle":22.7,"fluorescence":1.79},
      {"sample":"MUT/WT 0.01%","well":15,"cycle":24.2,"fluorescence":3.47},
      {"sample":"MUT/WT 0.01%","well":15,"cycle":25.2,"fluorescence":5.45},
      {"sample":"MUT/WT 0.01%","well":15,"cycle":26.2,"fluorescence":8.19},
      {"sample":"MUT/WT 0.01%","well":15,"cycle":27.2,"fluorescence":11.35},
      {"sample":"MUT/WT 0.01%","well":15,"cycle":28.2,"fluorescence":14.5},
      {"sample":"MUT/WT 0.01%","well":15,"cycle":29.7,"fluorescence":19.13},
      {"sample":"MUT/WT 0.01%","well":15,"cycle":31.2,"fluorescence":23.13},
      {"sample":"MUT/WT 0.01%","well":15,"cycle":32.7,"fluorescence":26.59},
      {"sample":"MUT/WT 0.01%","well":15,"cycle":34.2,"fluorescence":29.45},
      {"sample":"MUT/WT 0.01%","well":15,"cycle":36.2,"fluorescence":32.61},
      {"sample":"MUT/WT 0.01%","well":15,"cycle":38.2,"fluorescence":35.13},
      {"sample":"MUT/WT 0.01%","well":15,"cycle":41.2,"fluorescence":37.87},
      {"sample":"MUT/WT 0.01%","well":15,"cycle":44.2,"fluorescence":39.76},
      {"sample":"MUT/WT 0.01%","well":15,"cycle":48.2,"fluorescence":41.32},
      {"sample":"MUT/WT 0.01%","well":15,"cycle":54.2,"fluorescence":42.21},
      {"sample":"MUT/WT 0.01%","well":15,"cycle":65,"fluorescence":42.5},
      {"sample":"WT 100%","well":16,"cycle":1,"fluorescence":0.5},
      {"sample":"WT 100%","well":16,"cycle":19.3,"fluorescence":0.4},
      {"sample":"WT 100%","well":16,"cycle":21.3,"fluorescence":0.93},
      {"sample":"WT 100%","well":16,"cycle":22.8,"fluorescence":1.86},
      {"sample":"WT 100%","well":16,"cycle":24.3,"fluorescence":3.63},
      {"sample":"WT 100%","well":16,"cycle":25.3,"fluorescence":5.72},
      {"sample":"WT 100%","well":16,"cycle":26.3,"fluorescence":8.6},
      {"sample":"WT 100%","well":16,"cycle":27.3,"fluorescence":11.92},
      {"sample":"WT 100%","well":16,"cycle":28.3,"fluorescence":15.24},
      {"sample":"WT 100%","well":16,"cycle":29.8,"fluorescence":20.11},
      {"sample":"WT 100%","well":16,"cycle":31.3,"fluorescence":24.32},
      {"sample":"WT 100%","well":16,"cycle":32.8,"fluorescence":27.95},
      {"sample":"WT 100%","well":16,"cycle":34.3,"fluorescence":30.97},
      {"sample":"WT 100%","well":16,"cycle":36.3,"fluorescence":34.29},
      {"sample":"WT 100%","well":16,"cycle":38.3,"fluorescence":36.95},
      {"sample":"WT 100%","well":16,"cycle":41.3,"fluorescence":39.83},
      {"sample":"WT 100%","well":16,"cycle":44.3,"fluorescence":41.82},
      {"sample":"WT 100%","well":16,"cycle":48.3,"fluorescence":43.46},
      {"sample":"WT 100%","well":16,"cycle":54.3,"fluorescence":44.39},
      {"sample":"WT 100%","well":16,"cycle":65,"fluorescence":44.7},
      {"sample":"WT 100%","well":17,"cycle":1,"fluorescence":0.5},
      {"sample":"WT 100%","well":17,"cycle":19.8,"fluorescence":0.4},
      {"sample":"WT 100%","well":17,"cycle":21.8,"fluorescence":0.89},
      {"sample":"WT 100%","well":17,"cycle":23.3,"fluorescence":1.74},
      {"sample":"WT 100%","well":17,"cycle":24.8,"fluorescence":3.36},
      {"sample":"WT 100%","well":17,"cycle":25.8,"fluorescence":5.26},
      {"sample":"WT 100%","well":17,"cycle":26.8,"fluorescence":7.89},
      {"sample":"WT 100%","well":17,"cycle":27.8,"fluorescence":10.93},
      {"sample":"WT 100%","well":17,"cycle":28.8,"fluorescence":13.97},
      {"sample":"WT 100%","well":17,"cycle":30.3,"fluorescence":18.42},
      {"sample":"WT 100%","well":17,"cycle":31.8,"fluorescence":22.27},
      {"sample":"WT 100%","well":17,"cycle":33.3,"fluorescence":25.59},
      {"sample":"WT 100%","well":17,"cycle":34.8,"fluorescence":28.35},
      {"sample":"WT 100%","well":17,"cycle":36.8,"fluorescence":31.38},
      {"sample":"WT 100%","well":17,"cycle":38.8,"fluorescence":33.81},
      {"sample":"WT 100%","well":17,"cycle":41.8,"fluorescence":36.45},
      {"sample":"WT 100%","well":17,"cycle":44.8,"fluorescence":38.27},
      {"sample":"WT 100%","well":17,"cycle":48.8,"fluorescence":39.77},
      {"sample":"WT 100%","well":17,"cycle":54.8,"fluorescence":40.62},
      {"sample":"WT 100%","well":17,"cycle":65,"fluorescence":40.9},
      {"sample":"WT 100%","well":18,"cycle":1,"fluorescence":0.5},
      {"sample":"WT 100%","well":18,"cycle":19.7,"fluorescence":0.4},
      {"sample":"WT 100%","well":18,"cycle":21.7,"fluorescence":0.89},
      {"sample":"WT 100%","well":18,"cycle":23.2,"fluorescence":1.75},
      {"sample":"WT 100%","well":18,"cycle":24.7,"fluorescence":3.38},
      {"sample":"WT 100%","well":18,"cycle":25.7,"fluorescence":5.3},
      {"sample":"WT 100%","well":18,"cycle":26.7,"fluorescence":7.95},
      {"sample":"WT 100%","well":18,"cycle":27.7,"fluorescence":11.01},
      {"sample":"WT 100%","well":18,"cycle":28.7,"fluorescence":14.07},
      {"sample":"WT 100%","well":18,"cycle":30.2,"fluorescence":18.56},
      {"sample":"WT 100%","well":18,"cycle":31.7,"fluorescence":22.43},
      {"sample":"WT 100%","well":18,"cycle":33.2,"fluorescence":25.78},
      {"sample":"WT 100%","well":18,"cycle":34.7,"fluorescence":28.55},
      {"sample":"WT 100%","well":18,"cycle":36.7,"fluorescence":31.61},
      {"sample":"WT 100%","well":18,"cycle":38.7,"fluorescence":34.06},
      {"sample":"WT 100%","well":18,"cycle":41.7,"fluorescence":36.71},
      {"sample":"WT 100%","well":18,"cycle":44.7,"fluorescence":38.55},
      {"sample":"WT 100%","well":18,"cycle":48.7,"fluorescence":40.06},
      {"sample":"WT 100%","well":18,"cycle":54.7,"fluorescence":40.91},
      {"sample":"WT 100%","well":18,"cycle":65,"fluorescence":41.2},
      {"sample":"NTC","well":19,"cycle":1,"fluorescence":0.78},
      {"sample":"NTC","well":19,"cycle":65,"fluorescence":0.78},
      {"sample":"NTC","well":20,"cycle":1,"fluorescence":0.8},
      {"sample":"NTC","well":20,"cycle":48,"fluorescence":0.8},
      {"sample":"NTC","well":20,"cycle":56,"fluorescence":0.85},
      {"sample":"NTC","well":20,"cycle":65,"fluorescence":1.0},
      {"sample":"NTC","well":21,"cycle":1,"fluorescence":0.75},
      {"sample":"NTC","well":21,"cycle":65,"fluorescence":0.75}
    ]
  },
  "vconcat": [
    {
      "title": {"text": "A", "anchor": "start", "frame": "bounds", "font": "Liberation Sans", "fontSize": 34, "fontWeight": "bold", "color": "#000000", "offset": -30},
      "vconcat": [
        {
          "width": 1053,
          "height": 559,
          "title": {"text": "Amplification Curves", "anchor": "middle", "frame": "bounds", "font": "DejaVu Sans", "fontSize": 17, "fontWeight": "bold", "color": "#111111", "offset": 15},
          "resolve": {"axis": {"y": "independent"}},
          "layer": [
            {
              "data": {"name": "curvesA"},
              "mark": {"type": "line", "interpolate": "monotone"},
              "encoding": {
                "x": {"field": "cycle", "type": "quantitative", "scale": {"domain": [0.56, 65.5], "nice": false, "zero": false},
                      "axis": {"values": [5, 10, 15, 20, 25, 30, 35, 40, 45, 50, 55, 60, 65], "format": "d", "tickSize": 7, "labelPadding": 2, "labelFlush": false, "title": "Cycles", "titlePadding": 2}},
                "y": {"field": "fluorescence", "type": "quantitative", "scale": {"domain": [-2.78, 35.49], "nice": false, "zero": false},
                      "axis": {"orient": "left", "values": [0.225, 3.225, 6.225, 9.225, 12.225, 15.225, 18.225, 21.225, 24.225, 27.225, 30.225, 33.225], "format": ".3f", "tickSize": 7, "labelPadding": 2, "title": "Fluorescence (483-533)", "titlePadding": 5}},
                "color": {"field": "sample", "type": "nominal",
                          "scale": {"domain": ["MUT 100%", "MUT/WT 10%", "MUT/WT 1%", "MUT/WT 0.1%", "MUT/WT 0.01%", "WT 100%", "NTC"],
                                    "range": ["#8e2437", "#3db552", "#3cc0d0", "#c9a24a", "#86861e", "#1a1ab8", "#000000"]},
                          "legend": {"orient": "none", "legendX": 13, "legendY": 20, "title": null,
                                     "encode": {"labels": {"update": {"fill": {"signal": "datum.value === 'MUT 100%' ? '#c00000' : datum.value === 'MUT/WT 10%' ? '#5bf25b' : datum.value === 'MUT/WT 1%' ? '#2bd1f5' : datum.value === 'MUT/WT 0.1%' ? '#f5c400' : datum.value === 'MUT/WT 0.01%' ? '#808000' : datum.value === 'WT 100%' ? '#1010d8' : '#000000'"}}}}}},
                "detail": {"field": "well", "type": "nominal"},
                "strokeWidth": {"condition": {"test": "datum.sample === 'WT 100%' && datum.well >= 19", "value": 3.2}, "value": 1.2}
              }
            },
            {
              "data": {"name": "markersA"},
              "mark": {"type": "rule", "strokeWidth": 3},
              "encoding": {
                "x": {"field": "cycle", "type": "quantitative", "scale": {"domain": [0.56, 65.5], "nice": false, "zero": false}},
                "y": {"field": "low", "type": "quantitative", "scale": {"domain": [-2.78, 35.49], "nice": false, "zero": false},
                      "axis": {"orient": "left", "values": [-2.175, -1.575, -0.975, -0.375, 0.225, 0.825, 1.425, 2.025, 2.625, 3.225, 3.825, 4.425, 5.025, 5.625, 6.225, 6.825, 7.425, 8.025, 8.625, 9.225, 9.825, 10.425, 11.025, 11.625, 12.225, 12.825, 13.425, 14.025, 14.625, 15.225, 15.825, 16.425, 17.025, 17.625, 18.225, 18.825, 19.425, 20.025, 20.625, 21.225, 21.825, 22.425, 23.025, 23.625, 24.225, 24.825, 25.425, 26.025, 26.625, 27.225, 27.825, 28.425, 29.025, 29.625, 30.225, 30.825, 31.425, 32.025, 32.625, 33.225, 33.825, 34.425, 35.025], "labels": false, "tickSize": 4, "title": null}},
                "y2": {"field": "high"},
                "color": {"condition": {"test": "datum.marker === 'start'", "value": "#4e4490"}, "value": "#5cbf3a"}
              }
            }
          ]
        }
      ]
    },
    {
      "title": {"text": "B", "anchor": "start", "frame": "bounds", "font": "Liberation Sans", "fontSize": 34, "fontWeight": "bold", "color": "#000000", "offset": -30},
      "vconcat": [
        {
          "width": 1053,
          "height": 559,
          "title": {"text": "Amplification Curves", "anchor": "middle", "frame": "bounds", "font": "DejaVu Sans", "fontSize": 17, "fontWeight": "bold", "color": "#111111", "offset": 15},
          "resolve": {"axis": {"y": "independent"}},
          "layer": [
            {
              "data": {"name": "curvesB"},
              "mark": {"type": "line", "interpolate": "monotone", "strokeWidth": 1.2},
              "encoding": {
                "x": {"field": "cycle", "type": "quantitative", "scale": {"domain": [0.56, 65.5], "nice": false, "zero": false},
                      "axis": {"values": [5, 10, 15, 20, 25, 30, 35, 40, 45, 50, 55, 60, 65], "format": "d", "tickSize": 7, "labelPadding": 2, "labelFlush": false, "title": "Cycles", "titlePadding": 2}},
                "y": {"field": "fluorescence", "type": "quantitative", "scale": {"domain": [-3.85, 51.19], "nice": false, "zero": false},
                      "axis": {"orient": "left", "values": [2.941, 7.441, 11.941, 16.441, 20.941, 25.441, 29.941, 34.441, 38.941, 43.441, 47.941], "format": ".3f", "tickSize": 7, "labelPadding": 2, "title": "Fluorescence (483-533)", "titlePadding": 5}},
                "color": {"field": "sample", "type": "nominal",
                          "scale": {"domain": ["MUT 100%", "MUT/WT 10%", "MUT/WT 1%", "MUT/WT 0.1%", "MUT/WT 0.01%", "WT 100%", "NTC"],
                                    "range": ["#a3202c", "#2fc048", "#3cc4d4", "#c9a24a", "#86861e", "#1c1c80", "#000000"]},
                          "legend": {"orient": "none", "legendX": 13, "legendY": 20, "title": null,
                                     "encode": {"labels": {"update": {"fill": {"signal": "datum.value === 'MUT 100%' ? '#c00000' : datum.value === 'MUT/WT 10%' ? '#5bf25b' : datum.value === 'MUT/WT 1%' ? '#2bd1f5' : datum.value === 'MUT/WT 0.1%' ? '#f5c400' : datum.value === 'MUT/WT 0.01%' ? '#808000' : datum.value === 'WT 100%' ? '#1010d8' : '#000000'"}}}}}},
                "detail": {"field": "well", "type": "nominal"}
              }
            },
            {
              "data": {"name": "markersB"},
              "mark": {"type": "rule", "strokeWidth": 3},
              "encoding": {
                "x": {"field": "cycle", "type": "quantitative", "scale": {"domain": [0.56, 65.5], "nice": false, "zero": false}},
                "y": {"field": "low", "type": "quantitative", "scale": {"domain": [-3.85, 51.19], "nice": false, "zero": false},
                      "axis": {"orient": "left", "values": [-3.359, -2.459, -1.559, -0.659, 0.241, 1.141, 2.041, 2.941, 3.841, 4.741, 5.641, 6.541, 7.441, 8.341, 9.241, 10.141, 11.041, 11.941, 12.841, 13.741, 14.641, 15.541, 16.441, 17.341, 18.241, 19.141, 20.041, 20.941, 21.841, 22.741, 23.641, 24.541, 25.441, 26.341, 27.241, 28.141, 29.041, 29.941, 30.841, 31.741, 32.641, 33.541, 34.441, 35.341, 36.241, 37.141, 38.041, 38.941, 39.841, 40.741, 41.641, 42.541, 43.441, 44.341, 45.241, 46.141, 47.041, 47.941, 48.841, 49.741, 50.641], "labels": false, "tickSize": 4, "title": null}},
                "y2": {"field": "high"},
                "color": {"condition": {"test": "datum.marker === 'start'", "value": "#4e4490"}, "value": "#5cbf3a"}
              }
            }
          ]
        }
      ]
    }
  ]
}
